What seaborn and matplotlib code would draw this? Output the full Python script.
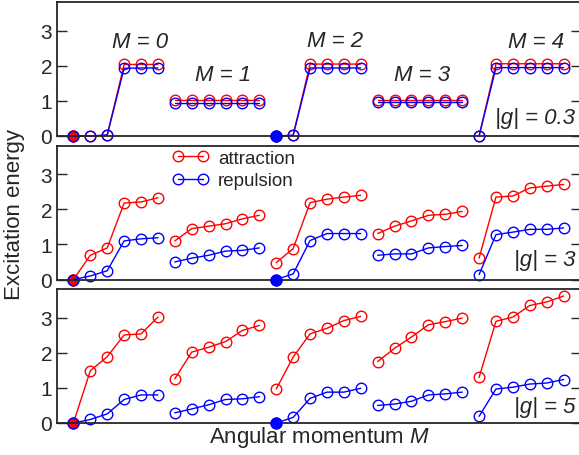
import numpy as np
import pandas as pd
import matplotlib
matplotlib.use('Agg')
import matplotlib.pyplot as plt
from matplotlib.lines import Line2D
import seaborn as sns

# Data: six states per angular momentum M, red = attraction, blue = repulsion
m_values = [0, 1, 2, 3, 4]
n_states = 6
g_labels = ['|g| = 0.3', '|g| = 3', '|g| = 5']

attr_g03 = [0, 0, 0.02, 2.04, 2.04, 2.04,
            1.04, 1.04, 1.04, 1.04, 1.04, 1.04,
            0, 0.02, 2.05, 2.05, 2.05, 2.05,
            1.04, 1.04, 1.04, 1.04, 1.04, 1.04,
            0, 2.06, 2.06, 2.06, 2.06, 2.06]
rep_g03 = [0, 0, 0.03, 1.93, 1.94, 1.94,
           0.95, 0.95, 0.95, 0.95, 0.95, 0.95,
           0, 0.02, 1.94, 1.94, 1.94, 1.94,
           0.96, 0.96, 0.96, 0.96, 0.96, 0.96,
           0, 1.95, 1.95, 1.95, 1.95, 1.95]

attr_g3 = [0, 0.69, 0.90, 2.18, 2.21, 2.33,
           1.10, 1.45, 1.52, 1.59, 1.73, 1.83,
           0.48, 0.88, 2.19, 2.29, 2.35, 2.40,
           1.31, 1.52, 1.67, 1.83, 1.86, 1.94,
           0.61, 2.35, 2.38, 2.61, 2.66, 2.71]
rep_g3 = [0, 0.10, 0.25, 1.10, 1.16, 1.19,
          0.50, 0.61, 0.69, 0.81, 0.83, 0.90,
          0, 0.16, 1.11, 1.31, 1.31, 1.31,
          0.69, 0.73, 0.73, 0.90, 0.94, 0.97,
          0.14, 1.28, 1.35, 1.43, 1.43, 1.47]

attr_g5 = [0, 1.49, 1.89, 2.51, 2.54, 3.02,
           1.26, 2.02, 2.16, 2.32, 2.64, 2.78,
           0.97, 1.88, 2.54, 2.70, 2.92, 3.04,
           1.75, 2.13, 2.45, 2.80, 2.89, 2.99,
           1.30, 2.90, 3.02, 3.35, 3.45, 3.62]
rep_g5 = [0, 0.10, 0.26, 0.67, 0.80, 0.80,
          0.29, 0.40, 0.52, 0.67, 0.69, 0.75,
          0, 0.16, 0.70, 0.88, 0.88, 0.99,
          0.50, 0.54, 0.62, 0.80, 0.83, 0.88,
          0.19, 0.97, 1.02, 1.11, 1.14, 1.24]

# ground states (filled markers): attraction at M=0, repulsion at M=2
attr_ground_m = 0
rep_ground_m = 2

panels = [(attr_g03, rep_g03), (attr_g3, rep_g3), (attr_g5, rep_g5)]

sns.set_style('ticks')
plt.rcParams['font.family'] = ['Liberation Sans', 'DejaVu Sans']
plt.rcParams['mathtext.fontset'] = 'custom'
plt.rcParams['mathtext.rm'] = 'Liberation Sans'
plt.rcParams['mathtext.it'] = 'Liberation Sans:italic'

W, H = 579, 456
fig = plt.figure(figsize=(W / 100, H / 100), dpi=100)

left = 56.5 / W
width = 524.0 / W
tops = [3, 146.5, 290]
ph = 134.0

RED = '#ff0000'
BLUE = '#0000ff'
line_kws = dict(marker='o', markersize=7.6, markeredgewidth=1.0, linewidth=1.0,
                markerfacecolor='none', estimator=None, legend=False)


def build_frame(values):
    k = np.arange(len(values))
    return pd.DataFrame({'k': k, 'E': values, 'M': k // n_states})


axes = []
for i, (attr, rep) in enumerate(panels):
    ax = fig.add_axes([left, 1 - (tops[i] + ph) / H, width, ph / H])
    axes.append(ax)
    series = [(attr, RED, attr_ground_m, 2.0), (rep, BLUE, rep_ground_m, 3.0)]
    for vals, color, ground, zo in series:
        df = build_frame(vals)
        for m in m_values:
            sub = df[df['M'] == m]
            sns.lineplot(data=sub, x='k', y='E', ax=ax, color=color,
                         markeredgecolor=color, **line_kws)
        g0 = df[(df['M'] == ground)].iloc[[0]]
        sns.scatterplot(data=g0, x='k', y='E', ax=ax, color=color, s=62,
                        edgecolor=color, linewidth=1.0, legend=False, zorder=zo)

    ax.set_xlim(-1, 30)
    ax.set_ylim(0, 3.82)
    ax.set_yticks([0, 1, 2, 3])
    ax.set_xticks([])
    ax.set_xlabel('')
    ax.set_ylabel('')
    ax.tick_params(axis='y', direction='in', left=True, right=True, length=7,
                   width=1.0, labelsize=15, pad=3)
    for sp in ax.spines.values():
        sp.set_visible(True)
        sp.set_linewidth(1.3)
    for coll in ax.collections:
        coll.set_clip_on(False)
    for ln in ax.lines:
        ln.set_clip_on(False)
    ax.text(29.7, 0.53 if i == 0 else (0.57 if i == 1 else 0.47), g_labels[i],
            ha='right', va='center', fontsize=16, style='italic')

# M labels in top panel
m_label_pos = [(3.97, 2.68), (8.87, 1.76), (15.5, 2.71), (20.6, 1.76), (27.4, 2.69)]
for m, (x, y) in zip(m_values, m_label_pos):
    axes[0].text(x, y, f'M = {m}', ha='center', va='center', fontsize=16,
                 style='italic')

handles = [Line2D([], [], color=RED, marker='o', markerfacecolor='none',
                  markersize=7.6, markeredgewidth=1.0, linewidth=1.0),
           Line2D([], [], color=BLUE, marker='o', markerfacecolor='none',
                  markersize=7.6, markeredgewidth=1.0, linewidth=1.0)]
axes[1].legend(handles, ['attraction', 'repulsion'], loc='upper left',
               bbox_to_anchor=(0.222, 0.97), frameon=False, numpoints=2,
               fontsize=13.5, handlelength=1.9, handletextpad=0.5,
               labelspacing=0.3, borderpad=0, borderaxespad=0)

fig.text(15 / W, 1 - 214 / H, 'Excitation energy', rotation=90, ha='center',
         va='center', fontsize=16)
fig.text(319 / W, 1 - 438 / H, 'Angular momentum $M$', ha='center', va='center',
         fontsize=16)

fig.savefig('out.png', dpi=100)
